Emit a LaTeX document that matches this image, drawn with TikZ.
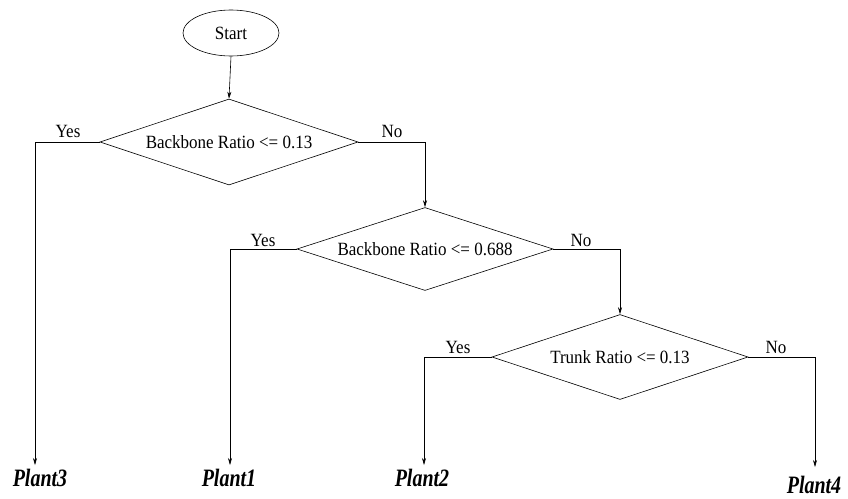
\documentclass[tikz,border=0pt]{standalone}
\usepackage{graphicx}
\usepackage{fontspec}
\setmainfont{Liberation Serif}
\usetikzlibrary{shapes.geometric,arrows.meta}
\newcommand{\tallleaf}[1]{\scalebox{1}[1.25]{#1}}
\newcommand{\talltxt}[1]{\scalebox{1}[1.1]{#1}}
\begin{document}
\begin{tikzpicture}[x=1pt,y=-1pt,
  line width=0.6pt,
  txt/.style={font=\fontsize{17}{19}\selectfont, inner sep=0pt},
  decision/.style={draw, diamond, aspect=3, inner sep=0pt, txt},
  startnode/.style={draw, ellipse, inner sep=0pt, minimum width=96pt, minimum height=46pt, txt},
  leaf/.style={font=\fontsize{20}{22}\selectfont\bfseries\itshape, inner sep=0pt},
  lbl/.style={txt},
  arr/.style={-{Stealth[length=7pt,width=4pt]}}]
\useasboundingbox (0,0) rectangle (848,498);
\node[startnode] (s) at (231,33) {\talltxt{Start}};
\node[decision, minimum width=258pt, minimum height=86pt] (d1) at (229,142) {\talltxt{Backbone Ratio <= 0.13}};
\node[decision, minimum width=256pt, minimum height=83pt] (d2) at (425,249) {\talltxt{Backbone Ratio <= 0.688}};
\node[decision, minimum width=256pt, minimum height=85pt] (d3) at (620,357) {\talltxt{Trunk Ratio <= 0.13}};
\node[leaf] (p3) at (40,478) {\tallleaf{Plant3}};
\node[leaf] (p1) at (229,478) {\tallleaf{Plant1}};
\node[leaf] (p2) at (422,478) {\tallleaf{Plant2}};
\node[leaf] (p4) at (814,485) {\tallleaf{Plant4}};
\coordinate (e3) at (35,465);
\coordinate (e1) at (230,465);
\coordinate (e2) at (424,465);
\coordinate (e4) at (815,467);
\draw[arr] (s.south) -- (d1.north);
\draw[arr] (d1.west) -| (e3);
\draw[arr] (d1.east) -| (d2.north);
\draw[arr] (d2.west) -| (e1);
\draw[arr] (d2.east) -| (d3.north);
\draw[arr] (d3.west) -| (e2);
\draw[arr] (d3.east) -| (e4);
\node[lbl] (y1) at (68,131) {\talltxt{Yes}};
\node[lbl] (n1) at (392,131) {\talltxt{No}};
\node[lbl] (y2) at (263,240) {\talltxt{Yes}};
\node[lbl] (n2) at (581,240) {\talltxt{No}};
\node[lbl] (y3) at (458,347) {\talltxt{Yes}};
\node[lbl] (n3) at (776,347) {\talltxt{No}};
\end{tikzpicture}
\end{document}
